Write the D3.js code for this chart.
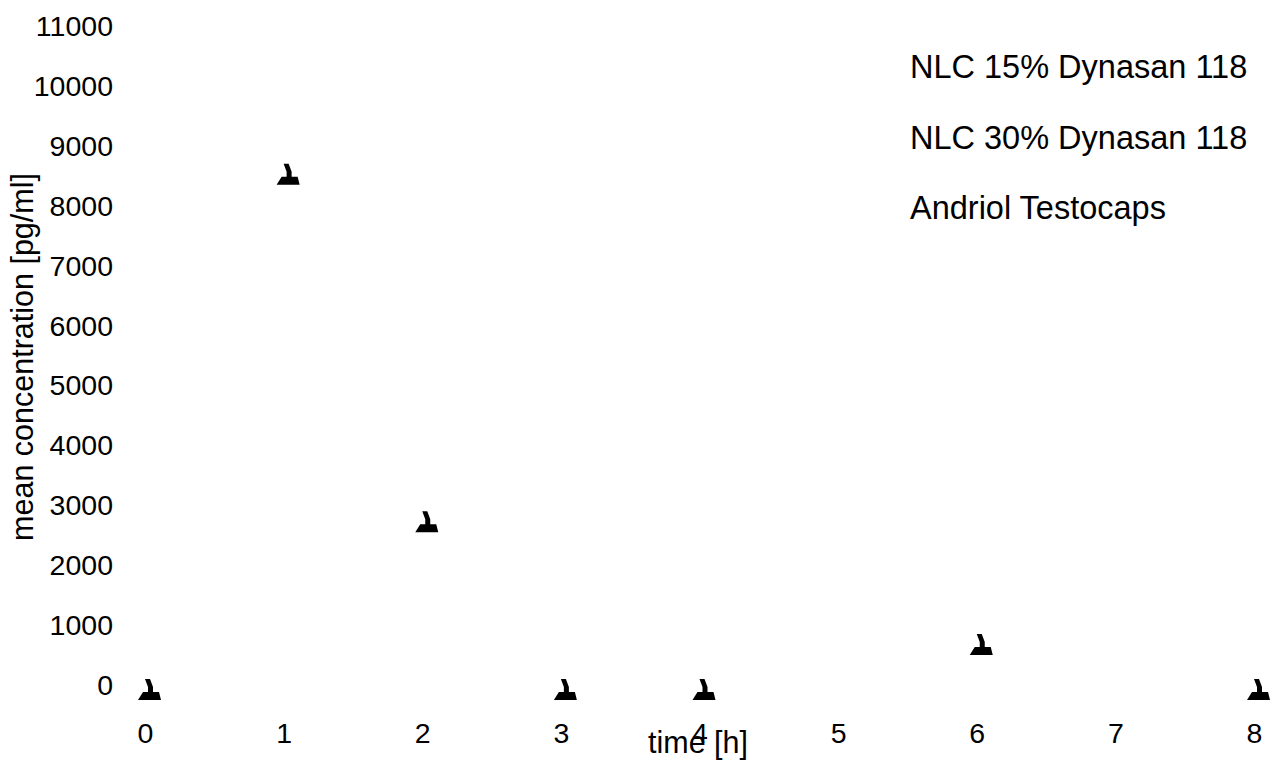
<!DOCTYPE html>
<html><head><meta charset="utf-8">
<script src="https://cdn.jsdelivr.net/npm/d3@7"></script>
<style>body{margin:0;background:#fff}svg{display:block}text{font-family:"Liberation Sans",Arial,sans-serif;fill:#000}</style>
</head><body><svg id="c" width="1270" height="765"></svg>
<script>
const timesH = [0, 1, 2, 3, 4, 6, 8];
const meanConc = [0, 8600, 2800, 0, 0, 750, 0];
const xTicks = [0, 1, 2, 3, 4, 5, 6, 7, 8];
const yTicks = [0, 1000, 2000, 3000, 4000, 5000, 6000, 7000, 8000, 9000, 10000, 11000];
const legendLabels = ["NLC 15% Dynasan 118", "NLC 30% Dynasan 118", "Andriol Testocaps"];

const svg = d3.select("#c");
const x = d3.scaleLinear().domain([0, 8]).range([149, 1258]);
const y = d3.scaleLinear().domain([0, 11000]).range([691, 32]);

const yAxis = svg.append("g").attr("transform", "translate(113,-6.5)")
  .call(d3.axisLeft(y).tickValues(yTicks).tickSize(0).tickPadding(0).tickFormat(d3.format("d")));
yAxis.select(".domain").remove();
yAxis.selectAll("text").attr("font-size", 28.5).attr("font-family", "Liberation Sans, Arial, sans-serif").attr("dy", "0.35em");

const xAxis = svg.append("g").attr("transform", "translate(-4,743)")
  .call(d3.axisBottom(x).tickValues(xTicks).tickSize(0).tickPadding(0).tickFormat(d3.format("d")));
xAxis.select(".domain").remove();
xAxis.selectAll("text").attr("font-size", 28.5).attr("font-family", "Liberation Sans, Arial, sans-serif").attr("dy", 0).attr("y", 0);

svg.append("text").attr("x", 698).attr("y", 753).attr("text-anchor", "middle")
  .attr("font-size", 30.5).text("time [h]");
svg.append("text").attr("transform", "translate(33,357) rotate(-90)").attr("text-anchor", "middle")
  .attr("font-size", 30.5).text("mean concentration [pg/ml]");

const marker = "M-4,-12 L1,-12 L4,-4 L4,1 L10,1 L12,9 L-11,9 L-6,1 L-1,1 L-1,-4 Z";
svg.append("g").selectAll("path").data(timesH.map((t, i) => [t, meanConc[i]])).join("path")
  .attr("transform", d => `translate(${x(d[0])},${y(d[1])})`)
  .attr("d", marker).attr("fill", "#000");

svg.append("g").selectAll("text").data(legendLabels).join("text")
  .attr("x", 910).attr("y", (d, i) => 78 + i * 70.5)
  .attr("font-size", 32.5).text(d => d);
</script></body></html>
